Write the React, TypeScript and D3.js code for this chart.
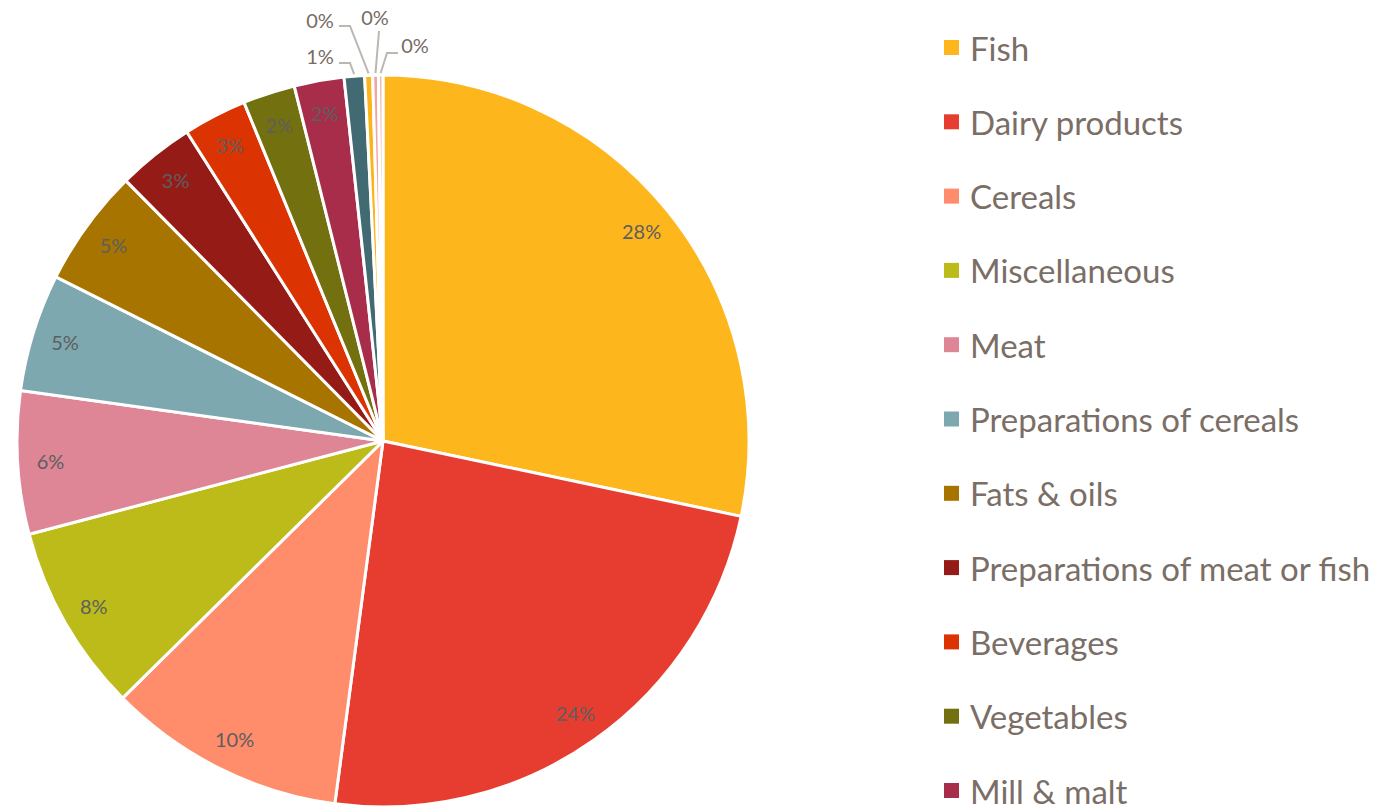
import React, { useEffect, useRef } from "react";
import * as d3 from "d3";

const categories = [
  "Fish",
  "Dairy products",
  "Cereals",
  "Miscellaneous",
  "Meat",
  "Preparations of cereals",
  "Fats & oils",
  "Preparations of meat or fish",
  "Beverages",
  "Vegetables",
  "Mill & malt",
  "Live animals",
  "Sugar",
  "Fruit",
  "Tobacco",
];
const shares = [28.3, 23.8, 10.5, 8.3, 6.3, 5.2, 5.2, 3.4, 2.8, 2.3, 2.2, 0.9, 0.35, 0.25, 0.2];
const colors = [
  "#fdb71d", "#e63d30", "#ff8c6b", "#bcbb19", "#de8696", "#7da8af", "#a87400",
  "#951c16", "#dc3302", "#737010", "#a82d4a", "#426a72", "#fbb41a", "#f4a3a3", "#e8c0a8",
];
// external label layout for the tiny slices: [labelX, labelY, elbowX, elbowY]
const outsideLabels: Record<number, [number, number, number, number]> = {
  11: [320, 56, 350, 63],
  12: [320, 20, 350, 26],
  13: [375, 17, 379, 31],
  14: [415, 45, 387, 53],
};

export default function App() {
  const ref = useRef<SVGSVGElement>(null);
  useEffect(() => {
    document.body.style.margin = "0";
    const svg = d3.select(ref.current);
    svg.selectAll("*").remove();
    const W = 1378, H = 808;
    const cx = 383, cy = 441, R = 366;
    const pie = d3.pie<number>().sort(null).value((d) => d);
    const arcs = pie(shares);
    const arc = d3.arc<d3.PieArcDatum<number>>().innerRadius(0).outerRadius(R);
    const g = svg.append("g").attr("transform", `translate(${cx},${cy})`);
    g.selectAll("path")
      .data(arcs)
      .join("path")
      .attr("d", arc as any)
      .attr("fill", (_, i) => colors[i])
      .attr("stroke", "#fff")
      .attr("stroke-width", 3)
      .attr("stroke-linejoin", "round");

    const total = d3.sum(shares);
    const fmt = (v: number) => `${Math.round((v / total) * 100)}%`;
    const labelR = 333;
    const font = "Lato, 'Open Sans', sans-serif";
    arcs.forEach((a, i) => {
      const mid = (a.startAngle + a.endAngle) / 2;
      if (outsideLabels[i]) {
        const [lx, ly, ex, ey] = outsideLabels[i];
        const px = cx + Math.sin(mid) * (R + 2);
        const py = cy - Math.cos(mid) * (R + 2);
        const sx = i === 13 ? ex : i === 14 ? lx - 17 : lx + 19;
        svg.append("polyline")
          .attr("points", `${sx},${ey} ${ex},${ey} ${px},${py}`)
          .attr("fill", "none")
          .attr("stroke", "#bdb7b2")
          .attr("stroke-width", 2);
        svg.append("text")
          .attr("x", lx).attr("y", ly)
          .attr("text-anchor", "middle")
          .attr("dominant-baseline", "central")
          .attr("font-family", font)
          .attr("font-size", 20)
          .attr("fill", "#766c65")
          .text(fmt(a.data));
      } else {
        svg.append("text")
          .attr("x", cx + Math.sin(mid) * labelR)
          .attr("y", cy - Math.cos(mid) * labelR)
          .attr("text-anchor", "middle")
          .attr("dominant-baseline", "central")
          .attr("font-family", font)
          .attr("font-size", 20)
          .attr("fill", "#5e5e5e")
          .text(fmt(a.data));
      }
    });

    const legend = svg.append("g");
    const step = 74.3;
    categories.forEach((c, i) => {
      const y = 47.5 + i * step;
      if (y > H + 10) return; // entries beyond the visible area are clipped
      legend.append("rect")
        .attr("x", 944).attr("y", y - 7.5).attr("width", 15).attr("height", 15)
        .attr("fill", colors[i]);
      legend.append("text")
        .attr("x", 970).attr("y", y)
        .attr("dominant-baseline", "central")
        .attr("font-family", font)
        .attr("font-size", 33)
        .attr("fill", "#7a6e66")
        .text(c);
    });
    void W;
  }, []);
  return (
    <div style={{ position: "fixed", left: 0, top: 0, width: 1378, height: 808, background: "#fff" }}>
      <svg ref={ref} width={1378} height={808} style={{ display: "block" }} />
    </div>
  );
}
